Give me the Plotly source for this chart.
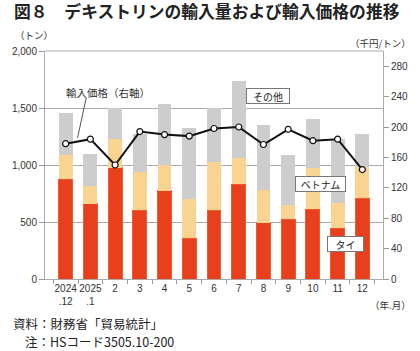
import plotly.graph_objects as go

categories = ["2024<br>.12", "2025<br>.1", "2", "3", "4", "5", "6", "7", "8", "9", "10", "11", "12"]
thai = [875, 658, 976, 605, 775, 357, 602, 832, 494, 524, 611, 445, 708]
vietnam = [210, 158, 252, 331, 225, 345, 422, 227, 287, 125, 363, 219, 277]
others = [368, 280, 269, 333, 532, 620, 473, 675, 570, 439, 430, 561, 284]
price = [178, 184, 150, 194, 190, 188, 198, 200, 177, 197, 182, 184, 144]

left_ticks = [0, 500, 1000, 1500, 2000]
left_ticktext = ["0", "500", "1,000", "1,500", "2,000"]
right_ticks = [0, 40, 80, 120, 160, 200, 240, 280]

FONT = "Noto Sans CJK JP"
NUMFONT = "Liberation Sans"
W, H = 420, 351
L, R, T, B = 35, 32, 51, 72
PW, PH = W - L - R, H - T - B

def px(x):
    return (x - L) / PW

def py(y):
    return (H - B - y) / PH

tickfont = dict(size=10, color="#333333", family=NUMFONT)

fig = go.Figure()
fig.add_trace(go.Bar(x=categories, y=thai, name="タイ", width=0.56,
                     marker=dict(color="#E8401C", line=dict(color="#F25A2A", width=1))))
fig.add_trace(go.Bar(x=categories, y=vietnam, name="ベトナム", width=0.56,
                     marker=dict(color="#FAD08C", line=dict(width=0),
                                 pattern=dict(shape=".", bgcolor="#FAD593", fgcolor="#F5C47C",
                                              size=3, solidity=0.2))))
fig.add_trace(go.Bar(x=categories, y=others, name="その他", width=0.56,
                     marker=dict(color="#CDCDCD", line=dict(width=0))))
fig.add_trace(go.Scatter(x=categories, y=price, yaxis="y2", mode="lines+markers",
                         line=dict(color="#111111", width=2),
                         marker=dict(size=6, color="white", line=dict(color="#111111", width=1.2))))

fig.update_layout(
    width=W, height=H, margin=dict(l=L, r=R, t=T, b=B),
    barmode="stack", showlegend=False,
    paper_bgcolor="white", plot_bgcolor="white",
    font=dict(family=FONT, size=10, color="#333333"),
    xaxis=dict(type="category", tickson="boundaries", ticks="outside", ticklen=4,
               tickcolor="#999999", showline=True, linecolor="#aaaaaa", linewidth=1,
               tickangle=0, tickfont=tickfont, showgrid=False),
    yaxis=dict(range=[0, 2000], tickvals=left_ticks, ticktext=left_ticktext,
               ticks="outside", ticklen=5, tickcolor="#999999",
               showline=True, linecolor="#aaaaaa", linewidth=1,
               showgrid=True, gridcolor="#aaaaaa", gridwidth=1, zeroline=False,
               tickfont=tickfont),
    yaxis2=dict(range=[0, 300], tickvals=right_ticks, overlaying="y", side="right",
                ticks="outside", ticklen=5, tickcolor="#999999",
                showline=True, linecolor="#aaaaaa", linewidth=1,
                showgrid=False, zeroline=False,
                tickfont=tickfont),
    bargap=0.45,
)

# top border
fig.add_shape(type="line", xref="paper", yref="paper", x0=0, x1=1, y0=1, y1=1,
              line=dict(color="#aaaaaa", width=1))
# leader line for price label
fig.add_shape(type="line", xref="paper", yref="paper", x0=px(78), y0=py(98), x1=px(69), y1=py(138),
              line=dict(color="#555555", width=1))

ann = []
ann.append(dict(text="<b>図８　デキストリンの輸入量および輸入価格の推移</b>", xref="paper", yref="paper",
                x=px(1), y=py(11), xanchor="left", yanchor="middle", showarrow=False,
                font=dict(size=16.8, color="#222222", family=FONT)))
ann.append(dict(text="（トン）", xref="paper", yref="paper", x=px(2), y=py(35),
                xanchor="left", yanchor="middle", showarrow=False, font=dict(size=9.5)))
ann.append(dict(text="（千円/トン）", xref="paper", yref="paper", x=px(419), y=py(43),
                xanchor="right", yanchor="middle", showarrow=False, font=dict(size=9.5)))
ann.append(dict(text="（年.月）", xref="paper", yref="paper", x=px(419), y=py(305),
                xanchor="right", yanchor="middle", showarrow=False, font=dict(size=9.5)))
ann.append(dict(text="輸入価格（右軸）", xref="paper", yref="paper", x=px(101), y=py(92),
                xanchor="center", yanchor="middle", showarrow=False, font=dict(size=10.5, color="#333333")))
for txt, cx, cy, w in [("その他", 268, 96, 40), ("ベトナム", 323, 184, 47), ("タイ", 349, 244, 33)]:
    ann.append(dict(text=txt, xref="paper", yref="paper", x=px(cx), y=py(cy),
                    xanchor="center", yanchor="middle", showarrow=False,
                    font=dict(size=10, color="#222222"), bgcolor="white",
                    bordercolor="#777777", borderwidth=1, borderpad=1, width=w, height=12))
ann.append(dict(text="資料：財務省「貿易統計」", xref="paper", yref="paper", x=px(0), y=py(323),
                xanchor="left", yanchor="middle", showarrow=False, font=dict(size=12.5, color="#222222")))
ann.append(dict(text="注：HSコード3505.10-200", xref="paper", yref="paper", x=px(12), y=py(341),
                xanchor="left", yanchor="middle", showarrow=False, font=dict(size=12.5, color="#222222")))
fig.update_layout(annotations=ann)

fig.write_html("out.html")
